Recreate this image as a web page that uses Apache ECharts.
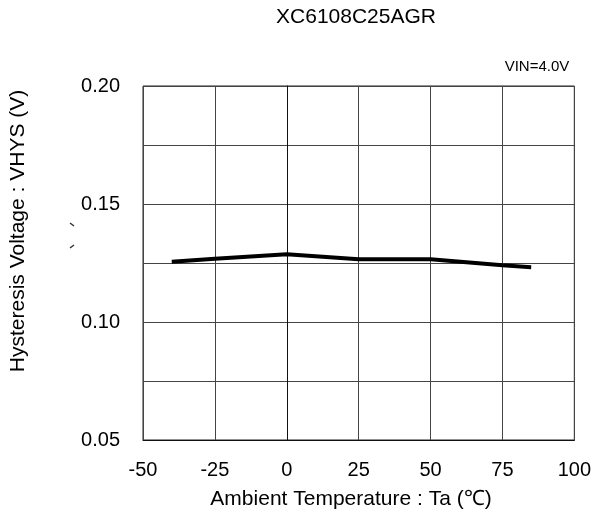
<!DOCTYPE html>
<html>
<head>
<meta charset="utf-8">
<script src="https://cdn.jsdelivr.net/npm/echarts@6/dist/echarts.min.js"></script>
<style>
html,body{margin:0;padding:0;background:#fff;}
#chart{width:594px;height:516px;}
</style>
</head>
<body>
<div id="chart"></div>
<script>
var temperatures = [-40, -25, 0, 25, 50, 75, 85];
var hysteresis = [0.1255, 0.1268, 0.1287, 0.1266, 0.1266, 0.1240, 0.1232];
var xTicks = [-50, -25, 0, 25, 50, 75, 100];
var yLabels = [0.05, 0.10, 0.15, 0.20];

var FONT = '"Liberation Sans", Arial, sans-serif';
var chart = echarts.init(document.getElementById('chart'));
chart.setOption({
  animation: false,
  backgroundColor: '#fff',
  grid: {left: 143, right: 19, top: 86, bottom: 76, show: true, borderColor: '#222', borderWidth: 1, containLabel: false},
  xAxis: {
    type: 'value', min: xTicks[0], max: xTicks[xTicks.length - 1], interval: 25,
    axisLine: {show: true, onZero: false, lineStyle: {color: '#111', width: 1}},
    axisTick: {show: false},
    axisLabel: {color: '#000', fontSize: 20, fontFamily: FONT, margin: 20},
    splitLine: {show: true, lineStyle: {color: '#444', width: 1}}
  },
  yAxis: {
    type: 'value', min: 0.05, max: 0.20, interval: 0.025,
    axisLine: {show: true, lineStyle: {color: '#111', width: 1}},
    axisTick: {show: false},
    axisLabel: {
      color: '#000', fontSize: 20, fontFamily: FONT, margin: 23,
      formatter: function (v) {
        for (var i = 0; i < yLabels.length; i++) {
          if (Math.abs(v - yLabels[i]) < 1e-6) return yLabels[i].toFixed(2);
        }
        return '';
      }
    },
    splitLine: {show: true, lineStyle: {color: '#444', width: 1}}
  },
  series: [{
    type: 'line',
    data: temperatures.map(function (t, i) { return [t, hysteresis[i]]; }),
    showSymbol: false,
    symbol: 'none',
    lineStyle: {color: '#000', width: 4}
  }],
  graphic: [
    {type: 'text', style: {text: 'XC6108C25AGR', font: '21px ' + FONT, fill: '#000', textAlign: 'center', textVerticalAlign: 'middle', x: 356, y: 17}},
    {type: 'text', style: {text: 'VIN=4.0V', font: '15px ' + FONT, fill: '#000', textAlign: 'center', textVerticalAlign: 'middle', x: 537, y: 67}},
    {type: 'text', style: {text: 'Ambient Temperature : Ta (\u2103)', font: '21px ' + FONT, fill: '#000', textAlign: 'center', textVerticalAlign: 'middle', x: 351, y: 499}},
    {type: 'text', x: 18, y: 231, rotation: Math.PI / 2, style: {text: 'Hysteresis Voltage : VHYS (V)', font: '21px ' + FONT, fill: '#000', textAlign: 'center', textVerticalAlign: 'middle', x: 0, y: 0}},
    {type: 'line', shape: {x1: 70, y1: 223, x2: 74, y2: 226}, style: {stroke: '#333', lineWidth: 1.5}},
    {type: 'line', shape: {x1: 70, y1: 248, x2: 74, y2: 245}, style: {stroke: '#333', lineWidth: 1.5}}
  ]
});
</script>
</body>
</html>
